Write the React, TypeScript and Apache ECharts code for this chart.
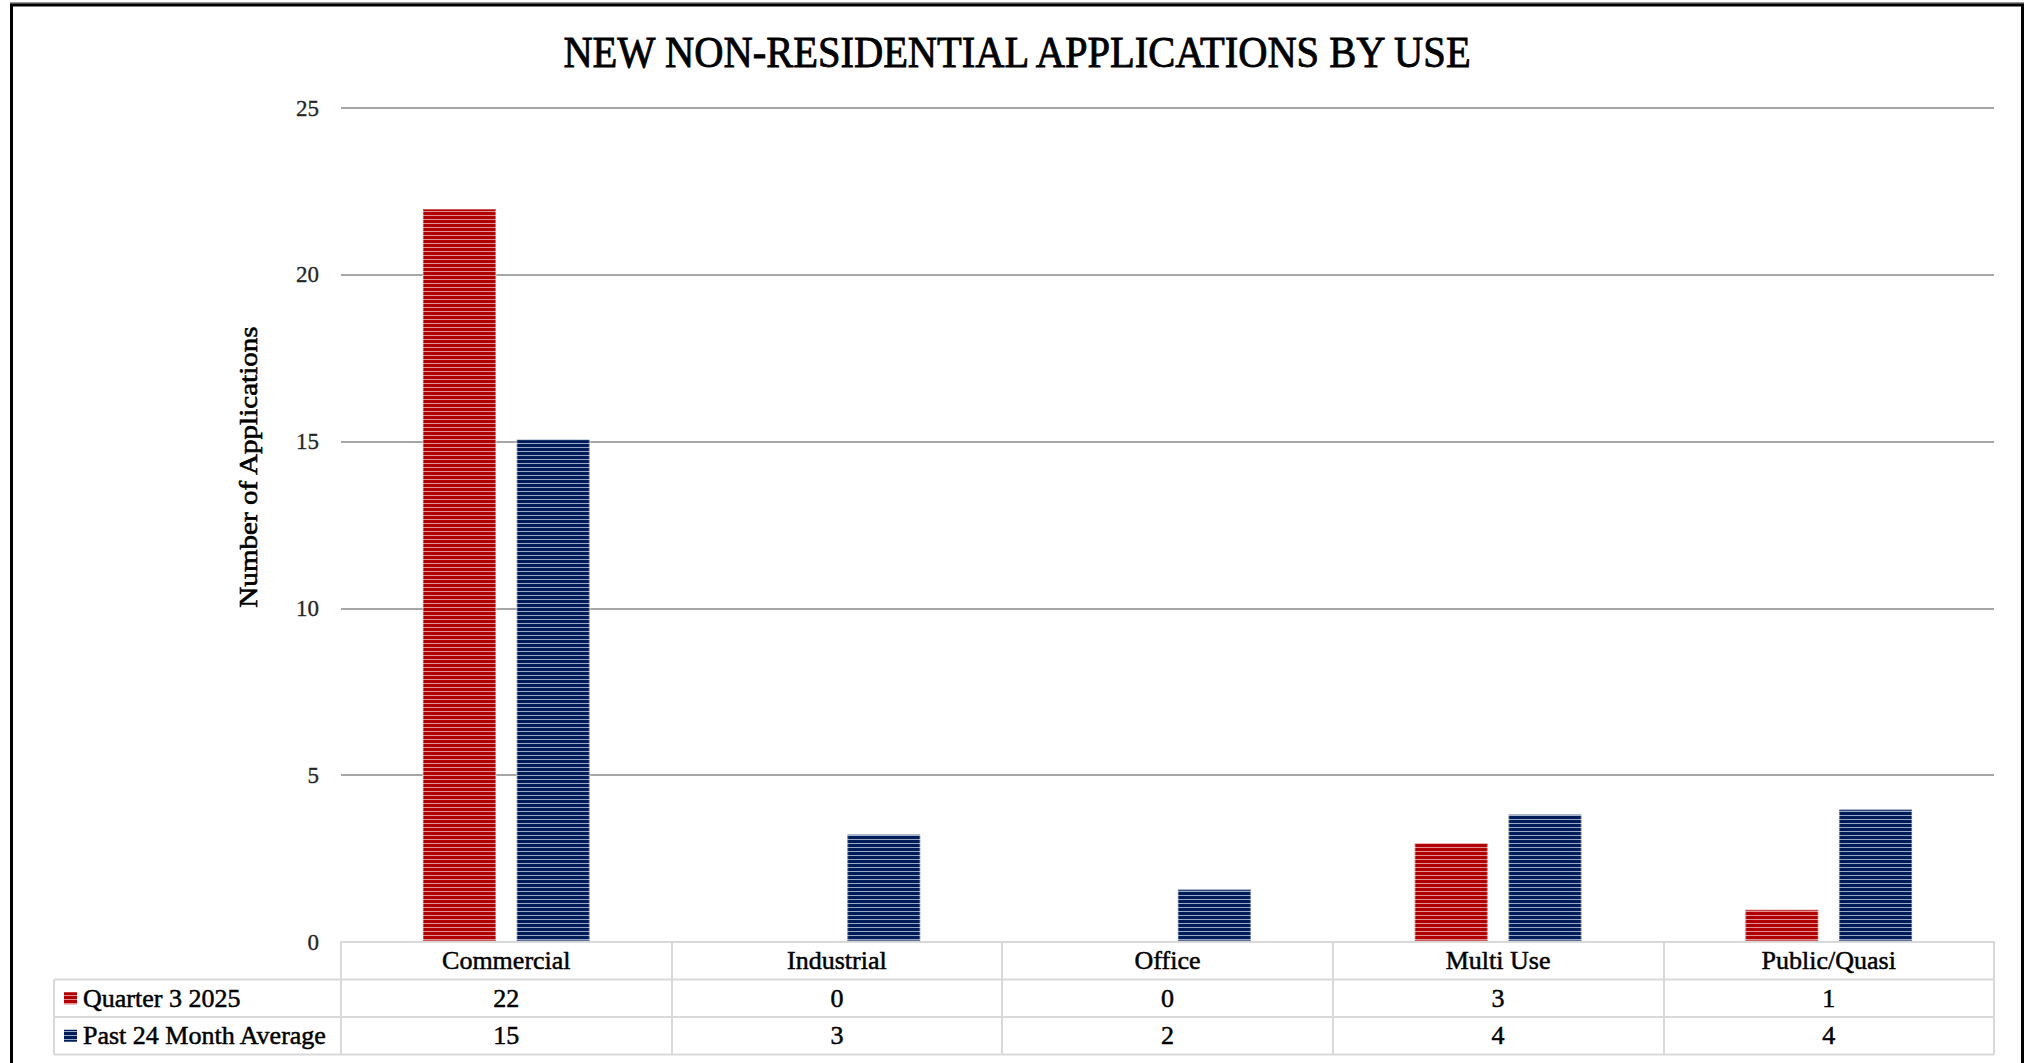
import React, { useEffect, useRef } from "react";
import * as echarts from "echarts";

const title = "NEW NON-RESIDENTIAL APPLICATIONS BY USE";
const yAxisName = "Number of Applications";
const categories = ["Commercial", "Industrial", "Office", "Multi Use", "Public/Quasi"];
const seriesNames = ["Quarter 3 2025", "Past 24 Month Average"];
const quarter3 = [22, 0, 0, 3, 1];
const past24Avg = [15.1, 3.25, 1.6, 3.85, 4.0];
const yMin = 0;
const yMax = 25;
const yInterval = 5;

const W = 2034;
const H = 1063;
const GRID_LEFT = 341;
const GRID_TOP = 108;
const GRID_W = 1653;
const GRID_H = 834;
const AXIS_Y = GRID_TOP + GRID_H;
const ROW = 37.5;
const TABLE_LEFT = 54;
const FONT = "'Liberation Serif', 'Times New Roman', serif";
const TABLE_LINE = "#d9d9d9";

function stripes(rows: string[]) {
  const c = document.createElement("canvas");
  c.width = 4;
  c.height = rows.length;
  const ctx = c.getContext("2d")!;
  rows.forEach((col, i) => {
    ctx.fillStyle = col;
    ctx.fillRect(0, i, 4, 1);
  });
  return { image: c, repeat: "repeat" as const };
}

export default function App() {
  const ref = useRef<HTMLDivElement>(null);

  useEffect(() => {
    document.body.style.margin = "0";
    document.documentElement.style.overflow = "hidden";
    document.body.style.overflow = "hidden";
    if (!ref.current) return;
    const chart = echarts.init(ref.current, null, { renderer: "svg" });
    const redPat = stripes(["#b00000", "#b00000", "#b00000", "#e09090"]);
    const bluePat = stripes(["#001c58", "#001c58", "#001c58", "#98a8c6"]);
    const pats = [redPat, bluePat];
    const seriesData = [quarter3, past24Avg];

    const fmt = (v: number) => String(Math.round(v));

    const graphics: any[] = [
      {
        type: "line",
        shape: { x1: 10, y1: 3, x2: W - 10, y2: 3 },
        style: { stroke: "#9a9a9a", lineWidth: 2 },
        silent: true,
      },
      {
        type: "rect",
        shape: { x: 11.5, y: 5, width: W - 23, height: H + 20 },
        style: { fill: "none", stroke: "#000", lineWidth: 3 },
        silent: true,
      },
      {
        type: "text",
        x: W / 2,
        y: 52,
        scaleX: 0.9,
        style: {
          text: title,
          fontFamily: FONT,
          fontSize: 45,
          fill: "#000",
          stroke: "#000",
          lineWidth: 0.9,
          align: "center",
          verticalAlign: "middle",
        },
      },
      {
        type: "text",
        x: 248,
        y: 467,
        rotation: Math.PI / 2,
        scaleX: 1.12,
        style: {
          text: yAxisName,
          fontFamily: FONT,
          fontSize: 26,
          fill: "#000",
          stroke: "#000",
          lineWidth: 0.6,
          align: "center",
          verticalAlign: "middle",
        },
      },
    ];

    for (let r = 1; r <= 3; r++) {
      graphics.push({
        type: "line",
        shape: { x1: TABLE_LEFT, y1: AXIS_Y + r * ROW, x2: GRID_LEFT + GRID_W, y2: AXIS_Y + r * ROW },
        style: { stroke: TABLE_LINE, lineWidth: 2 },
        silent: true,
      });
    }
    graphics.push({
      type: "line",
      shape: { x1: TABLE_LEFT, y1: AXIS_Y + ROW, x2: TABLE_LEFT, y2: AXIS_Y + 3 * ROW },
      style: { stroke: TABLE_LINE, lineWidth: 2 },
      silent: true,
    });

    seriesNames.forEach((name, i) => {
      const cy = AXIS_Y + (i + 1.5) * ROW;
      graphics.push({
        type: "rect",
        shape: { x: 64, y: cy - 6, width: 13, height: 12 },
        style: { fill: pats[i] },
        silent: true,
      });
      graphics.push({
        type: "text",
        x: 83,
        y: cy,
        style: {
          text: name,
          fontFamily: FONT,
          fontSize: 26,
          fill: "#000",
          stroke: "#000",
          lineWidth: 0.5,
          align: "left",
          verticalAlign: "middle",
        },
      });
    });

    const richStyle = {
      fontFamily: FONT,
      fontSize: 26,
      lineHeight: ROW,
      color: "#000",
      textBorderColor: "#000",
      textBorderWidth: 0.5,
    };

    chart.setOption({
      animation: false,
      backgroundColor: "#fff",
      grid: { left: GRID_LEFT, top: GRID_TOP, width: GRID_W, height: GRID_H, containLabel: false },
      xAxis: {
        type: "category",
        data: categories,
        boundaryGap: true,
        axisLine: { show: true, lineStyle: { color: TABLE_LINE, width: 2 } },
        axisTick: { show: true, length: 3 * ROW, lineStyle: { color: TABLE_LINE, width: 2 } },
        axisLabel: {
          interval: 0,
          margin: 0,
          formatter: (value: string, index: number) =>
            `{c|${value}}\n{v|${fmt(quarter3[index])}}\n{v|${fmt(past24Avg[index])}}`,
          rich: { c: richStyle, v: richStyle },
        },
        z: 5,
      },
      yAxis: {
        type: "value",
        min: yMin,
        max: yMax,
        interval: yInterval,
        axisLine: { show: false },
        axisTick: { show: false },
        axisLabel: {
          fontFamily: FONT,
          fontSize: 23,
          color: "#262626",
          margin: 22,
          textBorderColor: "#262626",
          textBorderWidth: 0.3,
        },
        splitLine: { show: true, lineStyle: { color: "#a6a6a6", width: 2 } },
      },
      series: seriesNames.map((name, i) => ({
        name,
        type: "bar",
        data: seriesData[i],
        barWidth: 75,
        barGap: "25%",
        itemStyle: {
          color: pats[i],
          borderColor: "rgba(255,255,255,0.35)",
          borderWidth: 2,
        },
        z: 3,
      })),
      graphic: graphics,
    });

    return () => chart.dispose();
  }, []);

  return (
    <div
      ref={ref}
      style={{ position: "absolute", left: 0, top: 0, width: W, height: H, background: "#fff" }}
    />
  );
}
